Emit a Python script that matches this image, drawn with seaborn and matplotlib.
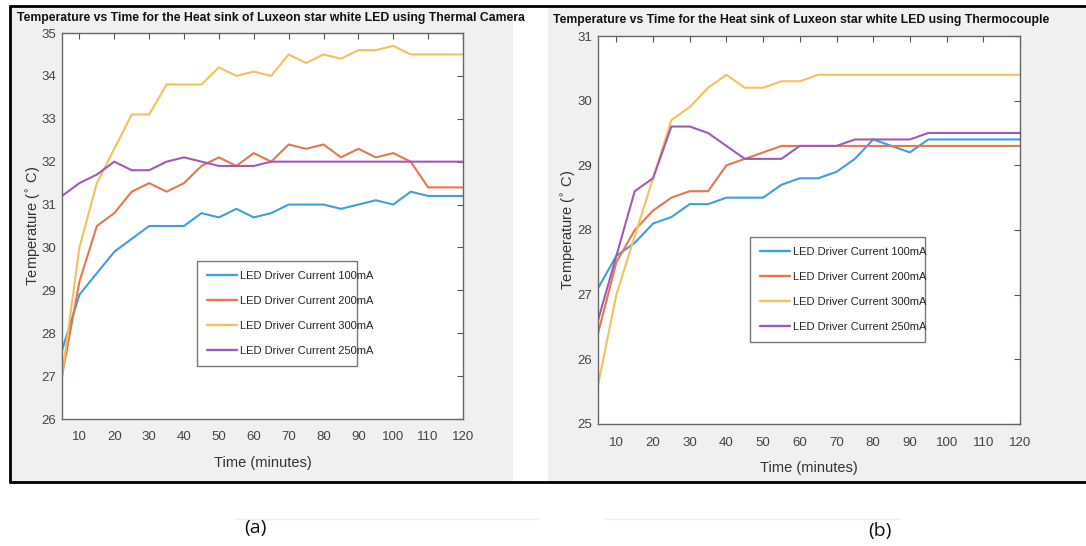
import pandas as pd
import matplotlib
matplotlib.use("Agg")
import matplotlib.pyplot as plt
import seaborn as sns
from matplotlib.patches import Rectangle
from matplotlib.lines import Line2D

# Tiempo (minutos)
time_min = [5, 10, 15, 20, 25, 30, 35, 40, 45, 50, 55, 60,
            65, 70, 75, 80, 85, 90, 95, 100, 105, 110, 115, 120]

# (a) Cámara térmica
cam_100 = [27.6, 28.9, 29.4, 29.9, 30.2, 30.5, 30.5, 30.5, 30.8, 30.7, 30.9, 30.7,
           30.8, 31.0, 31.0, 31.0, 30.9, 31.0, 31.1, 31.0, 31.3, 31.2, 31.2, 31.2]
cam_200 = [27.0, 29.2, 30.5, 30.8, 31.3, 31.5, 31.3, 31.5, 31.9, 32.1, 31.9, 32.2,
           32.0, 32.4, 32.3, 32.4, 32.1, 32.3, 32.1, 32.2, 32.0, 31.4, 31.4, 31.4]
cam_300 = [27.0, 30.0, 31.5, 32.3, 33.1, 33.1, 33.8, 33.8, 33.8, 34.2, 34.0, 34.1,
           34.0, 34.5, 34.3, 34.5, 34.4, 34.6, 34.6, 34.7, 34.5, 34.5, 34.5, 34.5]
cam_250 = [31.2, 31.5, 31.7, 32.0, 31.8, 31.8, 32.0, 32.1, 32.0, 31.9, 31.9, 31.9,
           32.0, 32.0, 32.0, 32.0, 32.0, 32.0, 32.0, 32.0, 32.0, 32.0, 32.0, 32.0]

# (b) Termopar
tc_100 = [27.1, 27.6, 27.8, 28.1, 28.2, 28.4, 28.4, 28.5, 28.5, 28.5, 28.7, 28.8,
          28.8, 28.9, 29.1, 29.4, 29.3, 29.2, 29.4, 29.4, 29.4, 29.4, 29.4, 29.4]
tc_200 = [26.4, 27.5, 28.0, 28.3, 28.5, 28.6, 28.6, 29.0, 29.1, 29.2, 29.3, 29.3,
          29.3, 29.3, 29.3, 29.3, 29.3, 29.3, 29.3, 29.3, 29.3, 29.3, 29.3, 29.3]
tc_300 = [25.6, 27.0, 27.9, 28.8, 29.7, 29.9, 30.2, 30.4, 30.2, 30.2, 30.3, 30.3,
          30.4, 30.4, 30.4, 30.4, 30.4, 30.4, 30.4, 30.4, 30.4, 30.4, 30.4, 30.4]
tc_250 = [26.6, 27.6, 28.6, 28.8, 29.6, 29.6, 29.5, 29.3, 29.1, 29.1, 29.1, 29.3,
          29.3, 29.3, 29.4, 29.4, 29.4, 29.4, 29.5, 29.5, 29.5, 29.5, 29.5, 29.5]

labels = ['LED Driver Current 100mA', 'LED Driver Current 200mA',
          'LED Driver Current 300mA', 'LED Driver Current 250mA']
colors = ['#3d9fdc', '#e6774d', '#f4c25a', '#9d5cb5']

titles = ['Temperature vs Time for the Heat sink of Luxeon star white LED using Thermal Camera',
          'Temperature vs Time for the Heat sink of Luxeon star white LED using Thermocouple']


def tabla(series):
    filas = []
    for lab, vals in zip(labels, series):
        for t, v in zip(time_min, vals):
            filas.append({'time': t, 'temp': v, 'serie': lab})
    return pd.DataFrame(filas)


df_cam = tabla([cam_100, cam_200, cam_300, cam_250])
df_tc = tabla([tc_100, tc_200, tc_300, tc_250])

sns.set_style('white')
plt.rcParams['font.family'] = ['Liberation Sans', 'DejaVu Sans']

W, H = 1086, 546
fig = plt.figure(figsize=(W / 100, H / 100), dpi=100)
fig.patch.set_facecolor('white')


def caja(x0, y0, x1, y1):
    return [x0 / W, 1 - y1 / H, (x1 - x0) / W, (y1 - y0) / H]


# Fondos grises de los paneles
for x0, x1 in [(11, 513), (548, 1086)]:
    fig.patches.append(Rectangle((x0 / W, 1 - 482 / H), (x1 - x0) / W, (482 - 7) / H,
                                 transform=fig.transFigure, facecolor='#f0f0f0',
                                 edgecolor='none', zorder=-5))
# Marco negro
fig.add_artist(Line2D([10 / W, 1], [1 - 6 / H, 1 - 6 / H], color='black', lw=2))
fig.add_artist(Line2D([10 / W, 1], [1 - 482 / H, 1 - 482 / H], color='black', lw=2))
fig.add_artist(Line2D([10 / W, 10 / W], [1 - 6 / H, 1 - 482 / H], color='black', lw=2))
# Líneas tenues sobre las etiquetas
fig.add_artist(Line2D([235 / W, 537 / W], [1 - 519 / H, 1 - 519 / H], color='#eeeeee', lw=1))
fig.add_artist(Line2D([606 / W, 900 / W], [1 - 519 / H, 1 - 519 / H], color='#eeeeee', lw=1))

ax1 = fig.add_axes(caja(62, 33, 463, 419))
ax2 = fig.add_axes(caja(598, 36, 1020, 424))

configs = [
    (ax1, df_cam, (26, 35), (197, 261, 357, 367)),
    (ax2, df_tc, (25, 31), (750, 237, 925, 347)),
]

for ax, df, ylim, leg in configs:
    ax.set_zorder(2)
    sns.lineplot(data=df, x='time', y='temp', hue='serie', hue_order=labels,
                 palette=colors, linewidth=1.5, ax=ax, legend=False)
    ax.set_xlim(5, 120)
    ax.set_ylim(*ylim)
    ax.set_xticks(range(10, 121, 10))
    ax.set_yticks(range(ylim[0], ylim[1] + 1))
    ax.tick_params(direction='in', top=True, right=True, length=4, width=0.8,
                   colors='#555555', labelsize=9.5, labelcolor='#444444')
    ax.tick_params(axis='x', pad=9)
    ax.tick_params(axis='y', pad=4)
    for s in ax.spines.values():
        s.set_color('#666666')
        s.set_linewidth(1.0)
    ax.set_facecolor('white')
    ax.set_xlabel('Time (minutes)', fontsize=10.5, color='#333333', labelpad=9)
    ax.set_ylabel('Temperature ($^{\\circ}$ C)', fontsize=10.5, color='#333333')
    ax.yaxis.set_label_coords(-0.047, 0.5)
    handles = [Line2D([], [], color=c, lw=1.7) for c in colors]
    x0, y0, x1, y1 = leg
    lg = ax.legend(handles, labels, loc='upper left',
                   bbox_to_anchor=(x0 / W, 1 - y1 / H, (x1 - x0) / W, (y1 - y0) / H),
                   bbox_transform=fig.transFigure, mode='expand', fontsize=8,
                   frameon=True, fancybox=False, handlelength=2.7, handletextpad=0.3,
                   labelspacing=1.35, borderpad=0.9, borderaxespad=0)
    lg.get_frame().set_edgecolor('#555555')
    lg.get_frame().set_linewidth(1.0)

fig.text(271 / W, 1 - 18 / H, titles[0], ha='center', va='center',
         fontsize=8.8, fontweight='bold', color='#111111')
fig.text(553 / W, 1 - 20 / H, titles[1], ha='left', va='center',
         fontsize=8.8, fontweight='bold', color='#111111')

fig.text(255 / W, 1 - 528 / H, '(a)', ha='center', va='center', fontsize=14,
         family=['Open Sans', 'DejaVu Sans'], color='#111111')
fig.text(880 / W, 1 - 531 / H, '(b)', ha='center', va='center', fontsize=14,
         family=['Open Sans', 'DejaVu Sans'], color='#111111')

fig.savefig('out.png', dpi=100)
